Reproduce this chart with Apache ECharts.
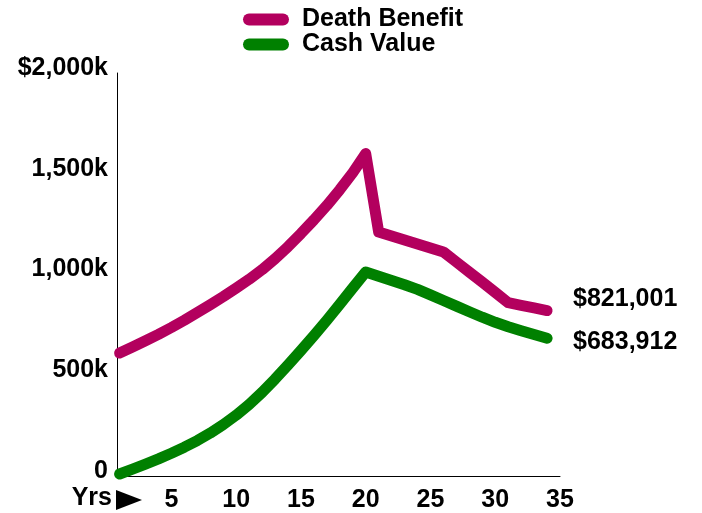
<!DOCTYPE html>
<html>
<head>
<meta charset="utf-8">
<title>Death Benefit and Cash Value</title>
<script src="https://cdn.jsdelivr.net/npm/echarts@6/dist/echarts.min.js"></script>
<style>
  html, body { margin: 0; padding: 0; background: #fff; }
  #chart { width: 702px; height: 513px; }
</style>
</head>
<body>
<div id="chart"></div>
<script>
// Policy years shown on the horizontal axis
const years = [1, 2, 3, 4, 5, 6, 7, 8, 9, 10, 11, 12, 13, 14, 15, 16, 17,
  18, 19, 20, 21, 22, 23, 24, 25, 26, 27, 28, 29, 30, 31, 32, 33, 34];

// Values in thousands of dollars
const deathBenefit = [610, 640, 671, 703, 737, 773, 811, 850, 890, 932, 976,
  1024, 1078, 1138, 1203, 1271, 1343, 1421, 1505, 1600, 1211, 1191, 1171,
  1151, 1131, 1112, 1062, 1012, 962, 911, 860, 847, 834, 821.001];

const cashValue = [10, 34, 59, 85, 113, 143, 176, 213, 255, 302, 355, 415,
  481, 551, 623, 697, 773, 852, 933, 1012, 991, 970, 949, 926, 899, 871, 843,
  815, 788, 763, 741, 721, 702, 683.912];

const xTickValues = [5, 10, 15, 20, 25, 30, 35];
const yTickValues = [0, 500, 1000, 1500, 2000];
const yTickLabels = ['0', '500k', '1,000k', '1,500k', '$2,000k'];

const seriesNames = ['Death Benefit', 'Cash Value'];
const seriesColors = ['#B3005E', '#008000'];

const FONT = '"Liberation Sans", Arial, Helvetica, sans-serif';
const FONT_SIZE = 25;

const chart = echarts.init(document.getElementById('chart'), null, { renderer: 'canvas' });

function pairs(values) {
  return values.map((v, i) => [years[i], v]);
}

function dollars(v) {
  return '$' + Math.round(v * 1000).toLocaleString('en-US');
}

function lineSeries(idx, values, labelOffset) {
  return {
    name: seriesNames[idx],
    type: 'line',
    data: pairs(values),
    color: seriesColors[idx],
    showSymbol: false,
    symbol: 'none',
    smooth: false,
    lineStyle: { width: 11, color: seriesColors[idx], cap: 'round', join: 'round' },
    endLabel: {
      show: true,
      distance: 26,
      offset: labelOffset,
      formatter: p => dollars(p.value[1]),
      fontFamily: FONT,
      fontSize: FONT_SIZE,
      fontWeight: 'bold',
      color: '#000'
    },
    emphasis: { disabled: true }
  };
}

// Rounded bar used as the legend marker
const capsule = 'path://M6,0 L40,0 A6,6 0 0 1 40,12 L6,12 A6,6 0 0 1 6,0 Z';

chart.setOption({
  animation: false,
  backgroundColor: '#fff',
  textStyle: { fontFamily: FONT },
  legend: {
    orient: 'vertical',
    left: 243,
    top: 7,
    padding: 0,
    itemWidth: 46,
    itemHeight: 12,
    itemGap: 0,
    icon: capsule,
    itemStyle: { borderWidth: 0 },
    lineStyle: { width: 0 },
    textStyle: {
      fontFamily: FONT,
      fontSize: FONT_SIZE,
      fontWeight: 'bold',
      color: '#000',
      lineHeight: 24.5,
      padding: [0, 0, 0, 8]
    },
    data: seriesNames
  },
  grid: { left: 117, right: 142, top: 73, bottom: 37, containLabel: false },
  xAxis: {
    type: 'value',
    min: 0.8,
    max: 35,
    axisLine: { show: true, lineStyle: { color: '#000', width: 1 } },
    axisTick: { show: false },
    splitLine: { show: false },
    axisLabel: {
      customValues: xTickValues,
      margin: 12,
      fontFamily: FONT,
      fontSize: FONT_SIZE,
      fontWeight: 'bold',
      color: '#000'
    }
  },
  yAxis: {
    type: 'value',
    min: 0,
    max: 2000,
    interval: 500,
    axisLine: { show: true, lineStyle: { color: '#000', width: 1 } },
    axisTick: { show: false },
    splitLine: { show: false },
    axisLabel: {
      margin: 9,
      verticalAlign: 'bottom',
      lineHeight: 10,
      fontFamily: FONT,
      fontSize: FONT_SIZE,
      fontWeight: 'bold',
      color: '#000',
      formatter: v => yTickLabels[yTickValues.indexOf(v)]
    }
  },
  graphic: [
    {
      type: 'text',
      x: 112,
      y: 498,
      style: {
        text: 'Yrs',
        align: 'right',
        verticalAlign: 'middle',
        fontFamily: FONT,
        fontSize: FONT_SIZE,
        fontWeight: 'bold',
        fill: '#000'
      }
    },
    {
      type: 'polygon',
      shape: { points: [[116, 490], [142, 500], [116, 510]] },
      style: { fill: '#000' }
    }
  ],
  series: [
    lineSeries(0, deathBenefit, [0, -11]),
    lineSeries(1, cashValue, [0, 4])
  ]
});
</script>
</body>
</html>
